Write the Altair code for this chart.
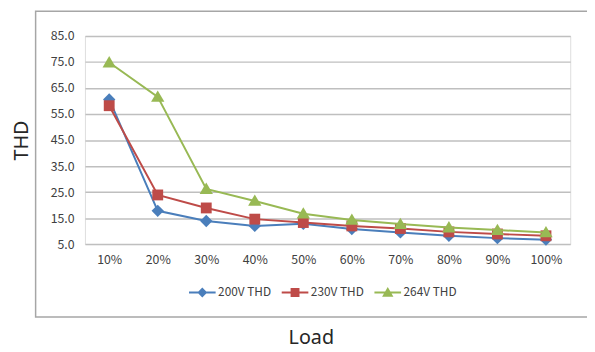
import altair as alt
import pandas as pd

load = ["10%", "20%", "30%", "40%", "50%", "60%", "70%", "80%", "90%", "100%"]
series = ["200V THD", "230V THD", "264V THD"]
v200 = [60.6, 17.8, 13.9, 12.0, 12.8, 10.8, 9.5, 8.2, 7.3, 6.7]
v230 = [58.2, 23.9, 18.9, 14.6, 13.3, 12.0, 11.0, 9.7, 8.9, 8.2]
v264 = [74.8, 61.6, 26.2, 21.6, 16.7, 14.3, 12.7, 11.4, 10.4, 9.5]
y_ticks = [5, 15, 25, 35, 45, 55, 65, 75, 85]

colors = ["#4A7EBB", "#BE4B48", "#98B954"]
marker_paths = [
    "M0,-1.25L1.25,0L0,1.25L-1.25,0Z",
    "M-1.1,-1.1H1.1V1.1H-1.1Z",
    "M0,-1.3L1.35,1.0L-1.35,1.0Z",
]
legend_paths = [
    "M-2.7,-0.2H2.7V0.2H-2.7Z M0,-1.0L1.0,0L0,1.0L-1.0,0Z",
    "M-2.7,-0.2H2.7V0.2H-2.7Z M-0.9,-0.9H0.9V0.9H-0.9Z",
    "M-2.7,-0.2H2.7V0.2H-2.7Z M0,-1.1L1.15,0.85L-1.15,0.85Z",
]

rows = []
for name, vals in zip(series, [v200, v230, v264]):
    for l, v in zip(load, vals):
        rows.append({"load": l, "series": name, "thd": v})
df = pd.DataFrame(rows)

LABEL_FONT = "Liberation Sans Narrow, Noto Sans CJK SC, sans-serif"
TITLE_FONT = "Noto Sans, sans-serif"

x_enc = alt.X(
    "load:O",
    sort=load,
    scale=alt.Scale(type="point", padding=0.5),
    axis=alt.Axis(
        title="Load", labelAngle=0, domain=False, ticks=False, labelPadding=10,
        labelFont=LABEL_FONT, labelFontSize=12.5, labelColor="#404040",
        titleFont=TITLE_FONT, titleFontSize=20, titleFontWeight="normal", titleColor="#262626",
        titleX=229, titleY=101, titleAlign="center", titleBaseline="alphabetic",
        grid=False,
    ),
)
y_enc = alt.Y(
    "thd:Q",
    scale=alt.Scale(domain=[5, 85], nice=False, zero=False),
    axis=alt.Axis(
        title="THD", values=y_ticks, format=".1f", domain=False, ticks=False, labelPadding=11,
        labelFont=LABEL_FONT, labelFontSize=12.5, labelColor="#404040",
        gridColor="#BFBFBF", gridWidth=1.5,
        titleFont=TITLE_FONT, titleFontSize=20, titleFontWeight="normal", titleColor="#262626",
        titleX=-64, titleY=105.5, titleAngle=270, titleAlign="center", titleBaseline="middle",
    ),
)
color_scale = alt.Scale(domain=series, range=colors)

box = alt.Chart(alt.Data(values=[{}])).mark_rect(
    filled=False, stroke="#A6A6A6", strokeWidth=1.5
).encode(
    x=alt.value(-50), x2=alt.value(520), y=alt.value(-25), y2=alt.value(285)
)

series_layers = []
for name, col, path in zip(series, colors, marker_paths):
    base = alt.Chart(df).transform_filter(alt.datum.series == name)
    series_layers.append(
        base.mark_line(strokeWidth=2, color=col).encode(x=x_enc, y=y_enc)
    )
    series_layers.append(
        base.mark_point(filled=True, opacity=1, size=100, shape=path, color=col).encode(
            x=x_enc, y=y_enc
        )
    )

leg = alt.Legend(
    title=None, orient="none", legendX=113, legendY=254, direction="horizontal",
    symbolSize=100, labelFont=LABEL_FONT, labelFontSize=12, labelColor="#404040",
    labelOffset=10, columnPadding=10, padding=0, symbolStrokeWidth=0,
)
legend_layer = alt.Chart(df).transform_filter("false").mark_point(
    filled=True, opacity=1, size=100
).encode(
    color=alt.Color("series:N", scale=color_scale, legend=leg),
    shape=alt.Shape("series:N", scale=alt.Scale(domain=series, range=legend_paths), legend=leg),
)

chart = alt.layer(box, *series_layers, legend_layer).properties(
    width=492, height=211,
    padding={"left": 78, "top": 26, "right": 17, "bottom": 107},
    autosize=alt.AutoSizeParams(type="none"),
).configure_view(stroke=None).configure(background="white")

chart.save("out.html", embed_options={"renderer": "svg", "actions": False})
